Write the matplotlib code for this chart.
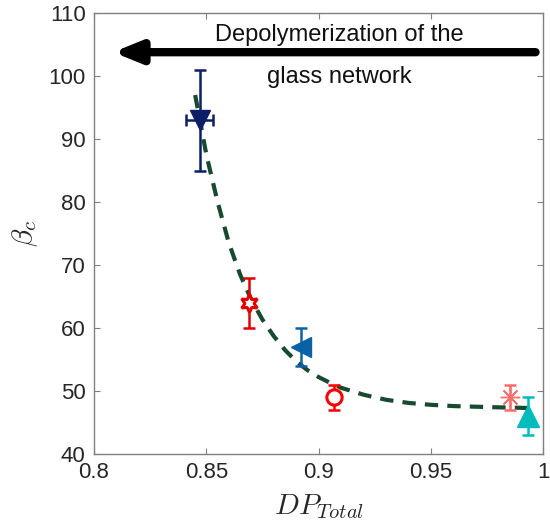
import matplotlib
matplotlib.use("Agg")
import matplotlib.pyplot as plt

# Data points
dp = [0.847, 0.869, 0.892, 0.907, 0.985, 0.993]
beta = [93, 64, 57, 49, 49, 46]
beta_err = [8, 4, 3, 2, 2, 3]
dp_err = [0.006, 0, 0, 0, 0, 0]
colors = ['#0c1f66', '#e00000', '#0a62a6', '#ff0000', '#ff6b6b', '#00bcbc']
markers = ['v', (6, 1, 0), '<', 'o', (8, 2, 0), '^']
filled = [True, False, True, False, True, True]
msizes = [15, 13, 15, 11, 14, 16]

# Fitted curve
fit_x = [0.845, 0.85, 0.855, 0.86, 0.865, 0.87, 0.875, 0.88, 0.885, 0.89, 0.895,
         0.9, 0.905, 0.91, 0.92, 0.93, 0.94, 0.95, 0.96, 0.97, 0.98, 0.993]
fit_y = [97, 87.5, 80, 73.5, 68.5, 64.5, 61.3, 58.7, 56.5, 54.7, 53.3,
         52.2, 51.3, 50.5, 49.4, 48.6, 48.1, 47.8, 47.6, 47.5, 47.4, 47.3]

xticks = [0.8, 0.85, 0.9, 0.95, 1]
xticklabels = ['0.8', '0.85', '0.9', '0.95', '1']
yticks = [40, 50, 60, 70, 80, 90, 100, 110]

plt.rcParams['font.family'] = ['Liberation Sans', 'DejaVu Sans']
plt.rcParams['mathtext.fontset'] = 'cm'

fig = plt.figure(figsize=(5.5, 5.26), dpi=100)
ax = fig.add_axes([0.171, 0.137, 0.817, 0.838])

ax.plot(fit_x, fit_y, color='#174a2e', lw=3, ls=(0, (3.2, 2.2)), zorder=1)

for i in range(len(dp)):
    mfc = colors[i] if filled[i] else 'white'
    ax.errorbar(dp[i], beta[i], yerr=beta_err[i],
                xerr=dp_err[i] if dp_err[i] > 0 else None,
                fmt='none', ecolor=colors[i], elinewidth=1.8, capsize=4,
                capthick=1.8, zorder=2)
    ax.plot(dp[i], beta[i], marker=markers[i], ms=msizes[i], color=colors[i],
            mfc=mfc, mec=colors[i], mew=2.2 if not filled[i] else 1, ls='none',
            zorder=3)

ax.annotate('', xy=(0.8085, 103.8), xytext=(0.9965, 103.8),
            arrowprops=dict(arrowstyle='-|>,head_length=1.6,head_width=0.65',
                            lw=6, color='black', shrinkA=0, shrinkB=0))
ax.text(0.909, 106.6, 'Depolymerization of the', ha='center', va='center',
        fontsize=17, color='#111111')
ax.text(0.909, 99.9, 'glass network', ha='center', va='center',
        fontsize=17, color='#111111')

ax.set_xlim(0.8, 1.0)
ax.set_ylim(40, 110)
ax.set_xticks(xticks)
ax.set_xticklabels(xticklabels)
ax.set_yticks(yticks)
ax.tick_params(direction='in', top=True, right=True, labelsize=16,
               colors='#808080', labelcolor='#262626', length=4, pad=6)
for s in ax.spines.values():
    s.set_color('#808080')
    s.set_linewidth(1)

ax.set_xlabel(r'$DP_{Total}$', fontsize=21, color='#262626', labelpad=6)
ax.set_ylabel(r'$\beta_c$', fontsize=21, color='#262626', labelpad=6)

fig.savefig('out.png', dpi=100)
